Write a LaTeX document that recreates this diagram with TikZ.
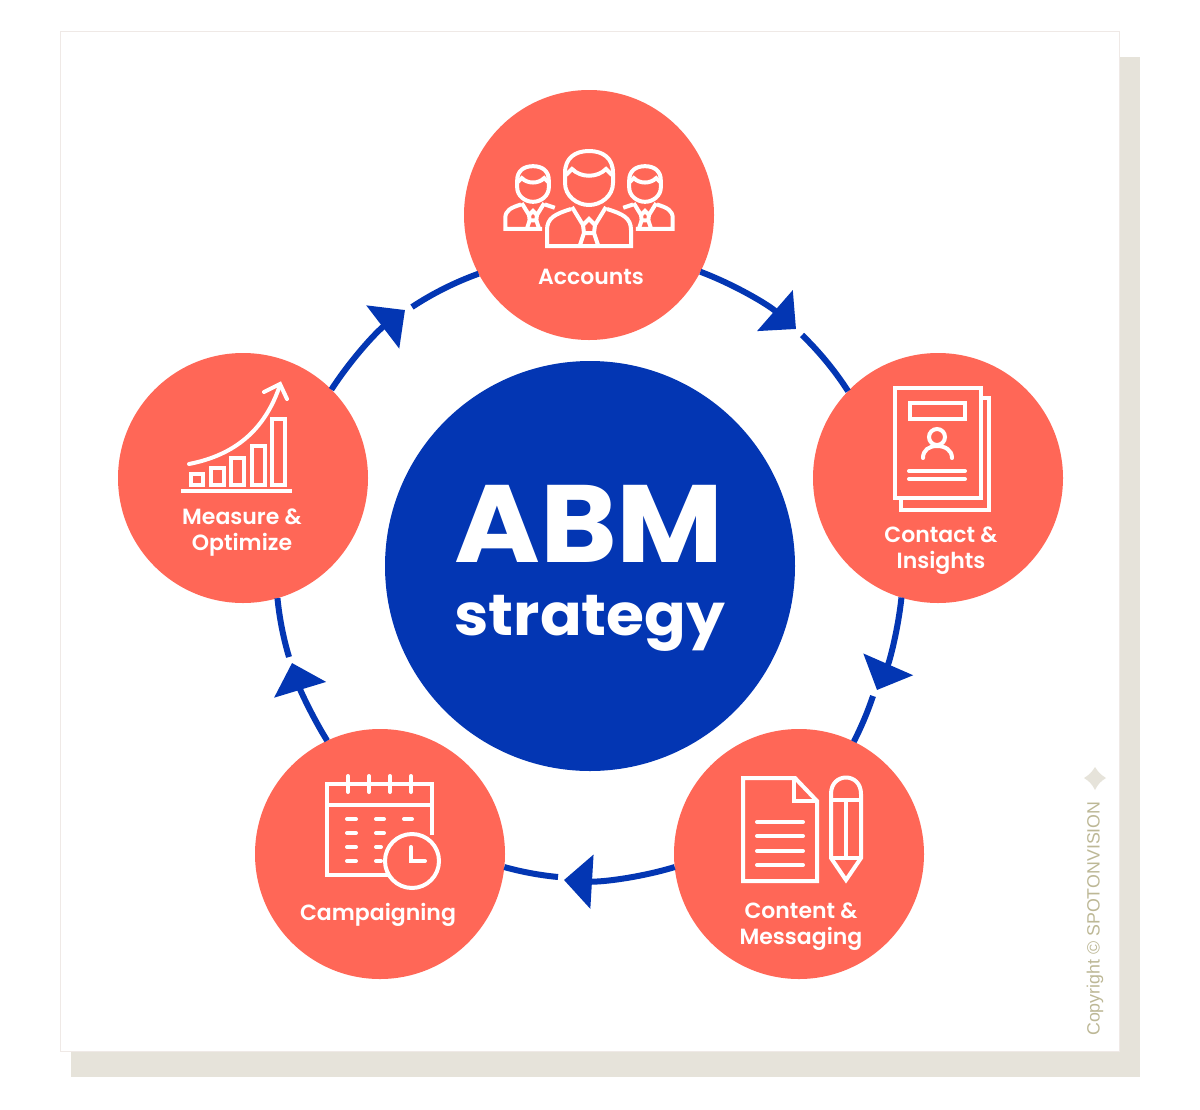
\documentclass[tikz,border=0pt]{standalone}
\usepackage{fontspec}
\usepackage{xcolor}
\setmainfont{Poppins}
\newfontfamily\lblfont{Poppins SemiBold}
\newfontfamily\headfont[FakeStretch=1.06]{Poppins Bold}
\newfontfamily\notefont{Liberation Sans}
\usetikzlibrary{arrows.meta}
\definecolor{coral}{HTML}{FF6757}
\definecolor{royal}{HTML}{0336B3}
\definecolor{sand}{HTML}{E6E3DA}
\definecolor{khaki}{HTML}{BDB896}
\definecolor{edge}{HTML}{EFE9E6}
\tikzset{
  stage/.style={circle, fill=coral, minimum size=250pt, inner sep=0pt, outer sep=0pt},
  stagetxt/.style={text=white, align=center, font=\lblfont\fontsize{22}{26}\selectfont, inner sep=0pt},
  ring/.style={draw=royal, line width=6pt},
  ringtip/.style={ring, -{Triangle[length=28pt,width=53pt]}},
  icon/.style={draw=white, line width=4pt, line join=miter},
  person/.pic={
    \draw[icon,pic actions] (-24,-5) .. controls (-24,-20) and (-14,-27) .. (0,-27)
       .. controls (14,-27) and (24,-20) .. (24,-5) -- (24,5)
       .. controls (24,18) and (12,27) .. (0,27)
       .. controls (-12,27) and (-24,18) .. (-24,5) -- cycle;
    \draw[icon,pic actions] (-23,-3) -- (-17,-9) .. controls (-8,0) and (8,0) .. (17,-9) -- (23,-3);
    \draw[icon,pic actions] (-17,29) -- (-6,47) -- (0,41) -- (6,47) -- (17,29);
    \draw[icon,pic actions] (-6,47) -- (-5,55) -- (5,55) -- (6,47);
    \draw[icon,pic actions] (-5,55) -- (-9,67) (5,55) -- (9,67);
  },
  bigbody/.pic={
    \draw[icon,pic actions] (-18,31) .. controls (-34,36) and (-42,40) .. (-42,52) -- (-42,68)
       -- (42,68) -- (42,52) .. controls (42,40) and (34,36) .. (18,31);
  },
  sidebody/.pic={
    \draw[icon,pic actions] (-18,31) .. controls (-34,36) and (-42,40) .. (-42,52) -- (-42,68) -- (14,68);
    \draw[icon,pic actions] (18,31) -- (33,36);
  }
}

\begin{document}
\begin{tikzpicture}[x=1pt,y=-1pt]
\useasboundingbox (0,0) rectangle (1200,1109);
% panel and its shadow
\fill[sand] (71,57) rectangle (1140,1077);
\draw[edge, fill=white, line width=1pt] (60,31) rectangle (1119,1051);

% circles
\node[circle, fill=royal, minimum size=410pt, inner sep=0pt, outer sep=0pt] (core) at (590,566) {};
\node[stage] (accounts) at (589,215) {};
\node[stage] (contact) at (938,478) {};
\node[stage] (content) at (799,854) {};
\node[stage] (campaign) at (380,854) {};
\node[stage] (measure) at (243,478) {};

% ends of the arrows on the ring
\coordinate (tipa) at (796,329);
\coordinate (resta) at (802,335);
\coordinate (tipb) at (877,690);
\coordinate (restb) at (873,696);
\coordinate (tipc) at (564,880);
\coordinate (restc) at (558,877);
\coordinate (tipd) at (292,663);
\coordinate (restd) at (289,657);
\coordinate (tipe) at (405,310);
\coordinate (reste) at (412,307);

\draw[ringtip] (accounts.-27) to[bend left=10.2, looseness=.85] (tipa);
\draw[ring] (resta) to[bend left=6.6, looseness=.85] (contact.136);
\draw[ringtip] (contact.-107) to[bend left=8.8, looseness=.85] (tipb);
\draw[ring] (restb) to[bend left=4.3, looseness=.85] (content.64);
\draw[ringtip] (content.186) to[bend left=10.1, looseness=.85] (tipc);
\draw[ring] (restc) to[bend left=5, looseness=.85] (campaign.-6);
\draw[ringtip] (campaign.115) to[bend left=7.5, looseness=.85] (tipd);
\draw[ring] (restd) to[bend left=5.5, looseness=.85] (measure.-74);
\draw[ringtip] (measure.45) to[bend left=9.9, looseness=.85] (tipe);
\draw[ring] (reste) to[bend left=6.8, looseness=.85] (accounts.208);

% texts
\node[text=white, inner sep=0pt, font=\headfont\fontsize{110}{110}\selectfont] (abm) at (589,524) {ABM};
\node[text=white, inner sep=0pt, font=\headfont\fontsize{58}{58}\selectfont] (strategy) at (590,623) {strategy};
\node[stagetxt] (accountstxt) at (591,277) {Accounts};
\node[stagetxt] (contacttxt) at (941,551) {Contact \&\\Insights};
\node[stagetxt] (contenttxt) at (801,927) {Content \&\\Messaging};
\node[stagetxt] (campaigntxt) at (378,915) {Campaigning};
\node[stagetxt] (measuretxt) at (242,533) {Measure \&\\Optimize};

% accounts icon
\pic[scale=.66, line width=3pt] at (533,184) {person};
\pic[scale=.66, line width=3pt] at (533,184) {sidebody};
\pic[xscale=-.66, yscale=.66, line width=3pt] at (645,184) {person};
\pic[xscale=-.66, yscale=.66, line width=3pt] at (645,184) {sidebody};
\pic at (589,178) {person};
\pic at (589,178) {bigbody};

% contact icon
\draw[icon] (982,398) -- (989,398) -- (989,510) -- (901,510) -- (901,499);
\draw[icon] (895,388) rectangle (981,498);
\draw[icon] (910,403) rectangle (965,419);
\draw[icon] (937,437) circle [radius=8];
\draw[icon, line cap=round] (923,458) .. controls (923,450) and (929,446) .. (937,446) .. controls (945,446) and (952,450) .. (952,458);
\draw[icon, line cap=round] (909,471) -- (965,471);
\draw[icon, line cap=round] (909,479) -- (965,479);

% content icon
\draw[icon] (743,778) -- (795,778) -- (817,801) -- (817,881) -- (743,881) -- cycle;
\draw[icon] (794,778) -- (794,801) -- (817,801);
\foreach \y in {822,836,851,865}
    \draw[icon, line cap=round] (757,\y) -- (803,\y);
\draw[icon] (831,858) -- (831,794) .. controls (831,772) and (861,772) .. (861,794) -- (861,858) -- (846,880) -- cycle;
\draw[icon] (831,800) -- (861,800);
\draw[icon] (846,800) -- (846,858);
\draw[icon] (831,858) -- (861,858);

% campaign icon
\draw[icon] (390,875) -- (327,875) -- (327,784) -- (432,784) -- (432,835);
\draw[icon] (327,805) -- (432,805);
\foreach \x in {348,369,390,411}
    \draw[icon, line cap=round] (\x,776) -- (\x,792);
\foreach \y in {819,833,847,861}
    \draw[icon, line cap=round] (347,\y) -- (356,\y);
\draw[icon, line cap=round] (376,819) -- (384,819);
\draw[icon, line cap=round] (376,833) -- (384,833);
\draw[icon, line cap=round] (376,847) -- (381,847);
\draw[icon, line cap=round] (376,861) -- (381,861);
\draw[icon, line cap=round] (404,819) -- (412,819);
\draw[icon] (412,861) circle [radius=27];
\draw[icon, line cap=round] (411,847) -- (411,861) -- (425,861);

% measure icon
\draw[icon] (181,491) -- (292,491);
\draw[icon] (191,474) rectangle (203,485);
\draw[icon] (211,468) rectangle (224,485);
\draw[icon] (231,458) rectangle (244,485);
\draw[icon] (252,446) rectangle (265,485);
\draw[icon] (272,419) rectangle (285,485);
\draw[icon, line cap=round] (189,464) .. controls (235,455) and (265,430) .. (280,385);
\draw[icon, line cap=round] (264,392) -- (280,384) -- (287,399);

% copyright mark
\fill[sand] (1095,767) .. controls (1098,772) and (1101,775) .. (1106,778) .. controls (1101,781) and (1098,784) .. (1095,790) .. controls (1092,784) and (1089,781) .. (1084,778) .. controls (1089,775) and (1092,772) .. (1095,767) -- cycle;
\node[text=khaki, rotate=90, anchor=west, inner sep=0pt, font=\notefont\fontsize{17.8}{20}\selectfont] (copyright) at (1095,1036) {Copyright © SPOTONVISION};
\end{tikzpicture}
\end{document}
